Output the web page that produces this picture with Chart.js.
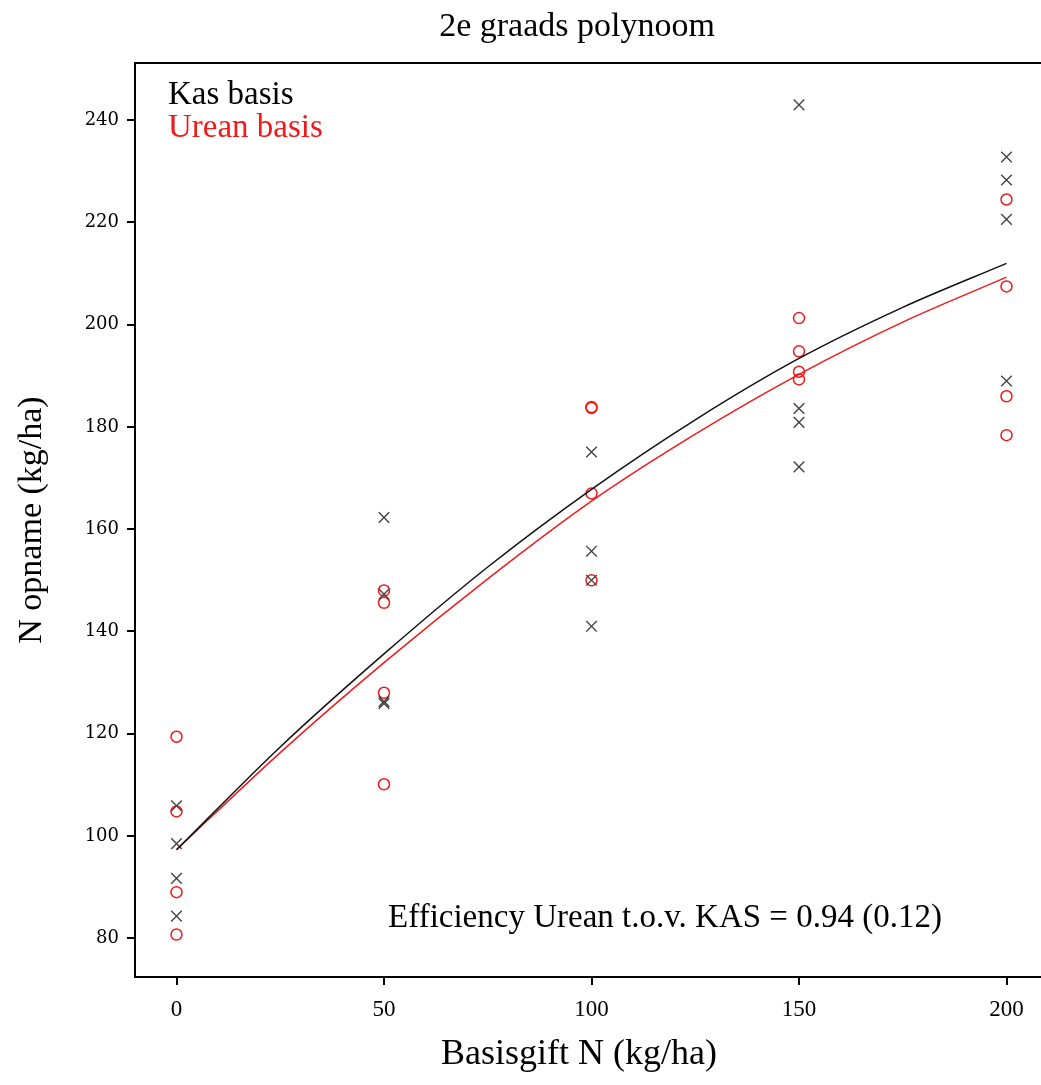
<!DOCTYPE html>
<html>
<head>
<meta charset="utf-8">
<title>2e graads polynoom</title>
<script src="https://cdn.jsdelivr.net/npm/chart.js@4.4.1/dist/chart.umd.min.js"></script>
<style>
    html, body { margin: 0; padding: 0; background: #fff; overflow: hidden; }
    #wrap { width: 1041px; height: 1085px; overflow: hidden; }
    #box { width: 1060px; height: 1085px; }
</style>
</head>
<body>
<div id="wrap"><div id="box"><canvas id="polyChart"></canvas></div></div>
<script>
// Basisgift N (kg/ha) per behandeling
const doses = [0, 50, 100, 150, 200];

// Waarnemingen N opname (kg/ha), 4 herhalingen per gift
const kasObs = [
    [105.9, 98.5, 91.7, 84.3],
    [162.3, 147.3, 126.3, 125.9],
    [175.1, 155.7, 150.0, 141.0],
    [243.0, 183.6, 180.9, 172.2],
    [232.8, 228.3, 220.6, 189.0]
];
const ureanObs = [
    [119.4, 104.8, 89.0, 80.7],
    [148.0, 145.6, 128.0, 110.1],
    [183.9, 183.7, 167.0, 150.0],
    [201.3, 194.8, 190.8, 189.3],
    [224.5, 207.5, 186.0, 178.4]
];

const curveX = [0, 25, 50, 75, 100, 125, 150, 175, 200];
const kasFit = [97.3, 117.4, 135.6, 152.6, 167.8, 181.4, 193.4, 203.4, 212.0];
const ureanFit = [97.3, 116.3, 133.9, 150.3, 165.5, 178.6, 190.3, 200.5, 209.3];

// As-ticks
const xTicks = [0, 50, 100, 150, 200];
const yTicks = [80, 100, 120, 140, 160, 180, 200, 220, 240];

const RED = '#f01a1a';
const SERIF = '"Liberation Serif", "Times New Roman", serif';

function toPoints(obs) {
    const pts = [];
    doses.forEach((d, i) => obs[i].forEach(v => pts.push({ x: d, y: v })));
    return pts;
}

function toCurve(values) {
    return curveX.map((x, i) => ({ x: x, y: values[i] }));
}

// Kader, titels en tekst
const textPlugin = {
    id: 'textPlugin',
    afterDraw(chart) {
        const ctx = chart.ctx;
        const area = chart.chartArea;
        ctx.save();

        ctx.strokeStyle = '#000';
        ctx.lineWidth = 2;
        ctx.strokeRect(area.left, area.top, area.right - area.left, area.bottom - area.top);

        ctx.fillStyle = '#000';
        ctx.textBaseline = 'middle';
        ctx.textAlign = 'center';
        ctx.font = '34px ' + SERIF;
        ctx.fillText('2e graads polynoom', 577, 27);

        ctx.font = '36px ' + SERIF;
        ctx.fillText('Basisgift N (kg/ha)', 579, 1055);

        ctx.save();
        ctx.translate(32, 520);
        ctx.rotate(-Math.PI / 2);
        ctx.font = '34px ' + SERIF;
        ctx.fillText('N opname (kg/ha)', 0, 0);
        ctx.restore();

        ctx.textAlign = 'left';
        ctx.font = '33px ' + SERIF;
        ctx.fillText('Kas basis', 168, 95);
        ctx.fillStyle = RED;
        ctx.fillText('Urean basis', 168, 128);

        ctx.fillStyle = '#000';
        ctx.textAlign = 'center';
        ctx.fillText('Efficiency Urean t.o.v. KAS = 0.94 (0.12)', 665, 918);

        ctx.restore();
    }
};

const ctx = document.getElementById('polyChart').getContext('2d');

new Chart(ctx, {
    type: 'scatter',
    data: {
        datasets: [
            {
                label: 'Kas fit',
                type: 'line',
                data: toCurve(kasFit),
                borderColor: '#111',
                borderWidth: 1.5,
                pointRadius: 0,
                cubicInterpolationMode: 'monotone',
                fill: false
            },
            {
                label: 'Urean fit',
                type: 'line',
                data: toCurve(ureanFit),
                borderColor: RED,
                borderWidth: 1.5,
                pointRadius: 0,
                cubicInterpolationMode: 'monotone',
                fill: false
            },
            {
                label: 'Kas basis',
                data: toPoints(kasObs),
                pointStyle: 'crossRot',
                pointRadius: 7.5,
                borderColor: '#444',
                borderWidth: 1.4,
                showLine: false
            },
            {
                label: 'Urean basis',
                data: toPoints(ureanObs),
                pointStyle: 'circle',
                pointRadius: 5.5,
                borderColor: RED,
                backgroundColor: 'rgba(0,0,0,0)',
                borderWidth: 1.5,
                showLine: false
            }
        ]
    },
    options: {
        responsive: true,
        maintainAspectRatio: false,
        animation: false,
        layout: {
            padding: { top: 63, right: 12, left: 0, bottom: 0 }
        },
        plugins: {
            legend: { display: false },
            title: { display: false },
            tooltip: { enabled: false }
        },
        scales: {
            x: {
                type: 'linear',
                min: -10,
                max: 210,
                afterFit: scale => { scale.height = 108; },
                afterBuildTicks: scale => { scale.ticks = xTicks.map(v => ({ value: v })); },
                border: { display: false },
                grid: {
                    drawOnChartArea: false,
                    drawTicks: true,
                    tickLength: 8,
                    color: '#000',
                    lineWidth: 2
                },
                ticks: {
                    color: '#000',
                    padding: 11,
                    maxRotation: 0,
                    font: { family: SERIF, size: 23 }
                }
            },
            y: {
                type: 'linear',
                min: 72.4,
                max: 251.2,
                afterFit: scale => { scale.width = 135; },
                afterBuildTicks: scale => { scale.ticks = yTicks.map(v => ({ value: v })); },
                border: { display: false },
                grid: {
                    drawOnChartArea: false,
                    drawTicks: true,
                    tickLength: 8,
                    color: '#000',
                    lineWidth: 2
                },
                ticks: {
                    color: '#000',
                    padding: 8,
                    font: { family: '"DejaVu Serif", serif', size: 18 }
                }
            }
        }
    },
    plugins: [textPlugin]
});
</script>
</body>
</html>
